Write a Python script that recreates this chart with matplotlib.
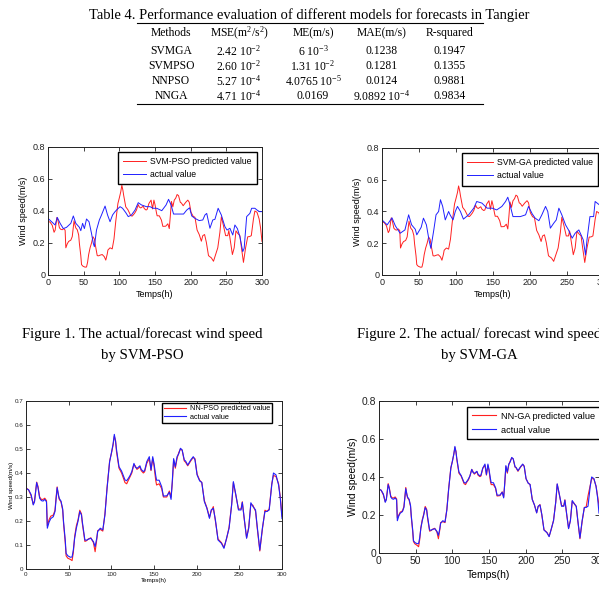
import matplotlib
matplotlib.use('Agg')
import matplotlib.pyplot as plt
from matplotlib.lines import Line2D

plt.rcParams['font.family'] = ['Liberation Sans', 'DejaVu Sans']
plt.rcParams['mathtext.fontset'] = 'custom'
plt.rcParams['mathtext.rm'] = 'Liberation Serif'
plt.rcParams['mathtext.it'] = 'Liberation Serif:italic'

W = H = 599

# ---- table data ----
tbl_title = 'Table 4. Performance evaluation of different models for forecasts in Tangier'
tbl_header = ['Methods', 'MSE(m$^2$/s$^2$)', 'ME(m/s)', 'MAE(m/s)', 'R-squared']
tbl_rows = [
    ['SVMGA', '2.42 10$^{-2}$', '6 10$^{-3}$', '0.1238', '0.1947'],
    ['SVMPSO', '2.60 10$^{-2}$', '1.31 10$^{-2}$', '0.1281', '0.1355'],
    ['NNPSO', '5.27 10$^{-4}$', '4.0765 10$^{-5}$', '0.0124', '0.9881'],
    ['NNGA', '4.71 10$^{-4}$', '0.0169', '9.0892 10$^{-4}$', '0.9834'],
]

# ---- wind speed series ----
hours = [0, 3, 6, 8.5, 10, 12.5, 14, 16, 18, 20, 22, 24, 25, 27, 29, 32, 34, 35, 36.5, 38,
         39, 41, 43, 44, 46, 47, 49, 52, 54, 55.5, 57, 59, 61, 63, 65, 66, 69, 71, 73, 76,
         79, 81, 83, 84, 87, 90, 92.5, 95, 98, 100, 102, 103.5, 105, 106, 109, 112, 114, 116, 118, 120,
         122, 124, 126.5, 128, 130, 133.5, 135, 137.5, 139, 141.5, 144.5, 146.5, 148.5, 150, 152, 153, 156, 159, 161, 165,
         168, 170, 171.5, 173, 175, 177, 179, 181, 183, 185.5, 187, 189.5, 193, 196, 198, 200.5, 203.5, 206, 209, 212,
         215, 217, 219.5, 222, 225, 229, 232, 235, 238, 241, 243, 246, 249, 252, 253.5, 256, 258.5, 261, 263.5, 266,
         269, 271, 274, 277, 280, 282.5, 285, 288, 290, 293, 296, 298, 300]
actual = [0.336, 0.33, 0.31, 0.267, 0.28, 0.36, 0.34, 0.295, 0.285, 0.283, 0.29, 0.28, 0.17, 0.195, 0.21, 0.218, 0.24, 0.28, 0.339, 0.31,
          0.294, 0.283, 0.25, 0.197, 0.12, 0.065, 0.055, 0.049, 0.05, 0.08, 0.128, 0.17, 0.2, 0.239, 0.225, 0.197, 0.121, 0.12, 0.124, 0.128,
          0.114, 0.093, 0.13, 0.156, 0.17, 0.163, 0.225, 0.336, 0.447, 0.482, 0.52, 0.561, 0.53, 0.5, 0.426, 0.408, 0.39, 0.371, 0.368, 0.378,
          0.39, 0.406, 0.44, 0.425, 0.419, 0.43, 0.415, 0.406, 0.41, 0.447, 0.468, 0.413, 0.468, 0.44, 0.39, 0.37, 0.37, 0.343, 0.304, 0.305,
          0.32, 0.29, 0.37, 0.46, 0.426, 0.468, 0.48, 0.503, 0.496, 0.454, 0.45, 0.433, 0.454, 0.468, 0.455, 0.392, 0.367, 0.361, 0.281, 0.253,
          0.211, 0.246, 0.253, 0.204, 0.121, 0.107, 0.086, 0.128, 0.17, 0.267, 0.364, 0.308, 0.246, 0.246, 0.278, 0.204, 0.128, 0.17, 0.276, 0.26,
          0.246, 0.176, 0.079, 0.17, 0.239, 0.24, 0.246, 0.35, 0.4, 0.392, 0.35, 0.294, 0.21]
nnpso_pred = [0.338, 0.33, 0.305, 0.27, 0.285, 0.362, 0.345, 0.3, 0.29, 0.29, 0.295, 0.285, 0.18, 0.205, 0.22, 0.225, 0.245, 0.29, 0.342, 0.305,
              0.29, 0.28, 0.245, 0.19, 0.11, 0.055, 0.045, 0.04, 0.035, 0.07, 0.135, 0.18, 0.205, 0.245, 0.23, 0.19, 0.115, 0.118, 0.125, 0.13,
              0.11, 0.072, 0.125, 0.16, 0.165, 0.158, 0.23, 0.34, 0.45, 0.48, 0.515, 0.553, 0.535, 0.49, 0.42, 0.4, 0.38, 0.36, 0.355, 0.37,
              0.385, 0.4, 0.436, 0.43, 0.415, 0.425, 0.41, 0.4, 0.405, 0.44, 0.46, 0.41, 0.46, 0.43, 0.37, 0.35, 0.355, 0.335, 0.3, 0.3,
              0.325, 0.3, 0.36, 0.455, 0.42, 0.46, 0.485, 0.5, 0.495, 0.45, 0.445, 0.43, 0.45, 0.465, 0.46, 0.395, 0.37, 0.36, 0.285, 0.255,
              0.215, 0.24, 0.26, 0.2, 0.125, 0.11, 0.09, 0.125, 0.175, 0.27, 0.36, 0.305, 0.25, 0.25, 0.28, 0.2, 0.13, 0.175, 0.27, 0.265,
              0.24, 0.17, 0.075, 0.165, 0.245, 0.24, 0.25, 0.355, 0.39, 0.385, 0.355, 0.3, 0.22]
nnga_pred = [0.338, 0.33, 0.305, 0.27, 0.285, 0.365, 0.345, 0.3, 0.29, 0.29, 0.295, 0.285, 0.185, 0.2, 0.215, 0.222, 0.245, 0.285, 0.345, 0.305,
             0.29, 0.28, 0.245, 0.19, 0.11, 0.06, 0.048, 0.04, 0.033, 0.07, 0.132, 0.175, 0.205, 0.245, 0.23, 0.19, 0.115, 0.118, 0.125, 0.13,
             0.11, 0.075, 0.125, 0.16, 0.165, 0.16, 0.23, 0.34, 0.45, 0.48, 0.52, 0.555, 0.535, 0.495, 0.42, 0.405, 0.385, 0.365, 0.36, 0.375,
             0.385, 0.405, 0.44, 0.43, 0.415, 0.428, 0.41, 0.402, 0.405, 0.445, 0.462, 0.41, 0.46, 0.435, 0.375, 0.36, 0.36, 0.34, 0.3, 0.302,
             0.322, 0.295, 0.365, 0.455, 0.42, 0.465, 0.485, 0.5, 0.495, 0.452, 0.448, 0.43, 0.452, 0.466, 0.458, 0.39, 0.368, 0.36, 0.283, 0.252,
             0.212, 0.244, 0.255, 0.2, 0.122, 0.108, 0.088, 0.126, 0.172, 0.268, 0.362, 0.306, 0.248, 0.25, 0.28, 0.2, 0.13, 0.172, 0.272, 0.262,
             0.244, 0.172, 0.075, 0.165, 0.24, 0.242, 0.3, 0.355, 0.392, 0.39, 0.352, 0.3, 0.25]

svmpso_hours = [0, 5, 10, 13, 17, 21.5, 26, 32, 35.5, 39, 44, 46, 48.5, 51, 54, 57.5, 61, 63.5, 65, 68,
                72, 75, 80, 83.5, 87, 90.5, 94, 97, 101, 104.5, 109, 112.5, 117, 122, 126.5, 131, 138, 143, 147.5, 152.5,
                159.5, 165.5, 169, 172.5, 176, 183, 190, 194.5, 198.5, 201.5, 206, 212, 217, 220, 222.5, 227, 231, 234, 238.5, 243,
                248, 251, 255, 259, 262, 265.5, 269, 273, 275, 278.5, 283, 285.5, 290, 293, 296.5, 300]
svmpso_blue = [0.354, 0.333, 0.3125, 0.36, 0.323, 0.29, 0.298, 0.323, 0.369, 0.323, 0.298, 0.277, 0.323, 0.29, 0.35, 0.333, 0.26, 0.198, 0.177, 0.281,
               0.344, 0.375, 0.431, 0.375, 0.333, 0.375, 0.396, 0.41, 0.427, 0.417, 0.39, 0.365, 0.375, 0.406, 0.452, 0.438, 0.427, 0.427, 0.417, 0.417,
               0.402, 0.4375, 0.473, 0.438, 0.381, 0.381, 0.381, 0.406, 0.42, 0.369, 0.354, 0.34, 0.344, 0.375, 0.385, 0.292, 0.344, 0.348, 0.417, 0.375,
               0.302, 0.281, 0.292, 0.25, 0.3125, 0.29, 0.24, 0.146, 0.167, 0.365, 0.385, 0.417, 0.417, 0.406, 0.396, 0.396]

svmga_hours = [0, 7, 13.5, 18, 24.5, 31, 36, 40, 45, 47, 53, 56, 60, 63.5, 66, 70, 73, 76.5, 79, 82,
               85.5, 90, 92, 96, 99, 102, 106, 110, 117, 124, 128, 135, 142, 149, 155, 162, 167, 170, 173, 177,
               187, 194, 198, 203, 207, 212, 216, 221, 224, 227.5, 232, 235.5, 239, 243, 248, 252, 257, 261, 266, 272,
               275, 277, 281, 286, 288, 293.7, 300]
svmga_blue = [0.347, 0.316, 0.36, 0.31, 0.263, 0.284, 0.379, 0.316, 0.288, 0.253, 0.301, 0.358, 0.316, 0.221, 0.168, 0.284, 0.379, 0.4, 0.474, 0.432,
              0.347, 0.4, 0.379, 0.347, 0.4, 0.432, 0.4, 0.352, 0.379, 0.421, 0.463, 0.453, 0.421, 0.421, 0.41, 0.432, 0.463, 0.49, 0.442, 0.368,
              0.368, 0.379, 0.432, 0.385, 0.358, 0.342, 0.379, 0.432, 0.4, 0.295, 0.326, 0.347, 0.421, 0.379, 0.316, 0.284, 0.232, 0.263, 0.284, 0.221,
              0.126, 0.221, 0.368, 0.368, 0.463, 0.442, 0.43]

captions = [('Figure 1. The actual/forecast wind speed', 'by SVM-PSO'),
            ('Figure 2. The actual/ forecast wind speed', 'by SVM-GA')]


def fx(x):
    return x / W


def fy(y):
    return 1 - y / H


def axes_px(fig, left, top, right, bottom):
    return fig.add_axes([fx(left), fy(bottom), (right - left) / W, (bottom - top) / H])


def style_axes(ax, ymax, ystep, fs):
    ax.set_xlim(0, 300)
    ax.set_ylim(0, ymax)
    ax.set_xticks(range(0, 301, 50))
    yt = [round(i * ystep, 2) for i in range(int(round(ymax / ystep)) + 1)]
    ax.set_yticks(yt)
    ax.set_yticklabels(['%g' % v for v in yt])
    ax.tick_params(direction='in', top=True, right=True, length=3, width=0.6,
                   labelsize=fs, pad=2, colors='#222222')
    for s in ax.spines.values():
        s.set_linewidth(0.7)
        s.set_color('#222222')


def legend(ax, anchor, fs, hl, pad, spacing):
    ax.legend(loc='upper left', bbox_to_anchor=anchor, borderaxespad=0, fancybox=False,
              edgecolor='k', framealpha=1, fontsize=fs, handlelength=hl, borderpad=pad,
              labelspacing=spacing, handletextpad=0.5)


fig = plt.figure(figsize=(W / 100, H / 100), dpi=100)

# ---- table ----
fig.text(fx(309), fy(15), tbl_title, family='Liberation Serif', fontsize=10.45,
         ha='center', va='center')
fig.add_artist(Line2D([fx(137), fx(483)], [fy(23), fy(23)], color='k', lw=0.8))
fig.add_artist(Line2D([fx(137), fx(483)], [fy(104), fy(104)], color='k', lw=0.8))
col_x = [171, 239, 313, 382, 450]
row_y = [33, 51, 66, 81, 96]
for cx, t in zip(col_x, tbl_header):
    fig.text(fx(cx), fy(row_y[0]), t, family='Liberation Serif', fontsize=8.4,
             ha='center', va='center')
for ry, row in zip(row_y[1:], tbl_rows):
    for cx, t in zip(col_x, row):
        fig.text(fx(cx), fy(ry), t, family='Liberation Serif', fontsize=8.4,
                 ha='center', va='center')

# ---- Figure 1: SVM-PSO ----
ax1 = axes_px(fig, 48, 147, 262, 275)
ax1.plot(hours, actual, color='#ff2020', lw=0.7, label='SVM-PSO predicted value')
ax1.plot(svmpso_hours, svmpso_blue, color='#2020ff', lw=0.7, label='actual value')
style_axes(ax1, 0.8, 0.2, 6.5)
ax1.set_xlabel('Temps(h)', fontsize=6.5, labelpad=2)
ax1.set_ylabel('Wind speed(m/s)', fontsize=6.5, labelpad=3)
legend(ax1, (0.327, 0.961), 6.2, 2.6, 0.6, 0.45)

# ---- Figure 2: SVM-GA ----
ax2 = axes_px(fig, 382, 148, 604, 275)
ax2.plot(hours, actual, color='#ff2020', lw=0.7, label='SVM-GA predicted value')
ax2.plot(svmga_hours, svmga_blue, color='#2020ff', lw=0.7, label='actual value')
style_axes(ax2, 0.8, 0.2, 6.5)
ax2.set_xlabel('Temps(h)', fontsize=6.5, labelpad=2)
ax2.set_ylabel('Wind speed(m/s)', fontsize=6.5, labelpad=3)
legend(ax2, (0.36, 0.96), 6.3, 2.9, 0.6, 0.45)

# ---- Figure 3: NN-PSO ----
ax3 = axes_px(fig, 26, 401, 282, 569)
ax3.plot(hours, nnpso_pred, color='#ff2020', lw=0.8, label='NN-PSO predicted value')
ax3.plot(hours, actual, color='#2020ff', lw=0.8, label='actual value')
style_axes(ax3, 0.7, 0.1, 4.5)
ax3.set_xlabel('Temps(h)', fontsize=4.5, labelpad=1)
ax3.set_ylabel('Wind speed(m/s)', fontsize=4.5, labelpad=0)
legend(ax3, (0.531, 0.988), 5.3, 3.0, 0.3, 0.15)

# ---- Figure 4: NN-GA ----
ax4 = axes_px(fig, 379, 401, 599, 553)
ax4.plot(hours, nnga_pred, color='#ff2020', lw=0.8, label='NN-GA predicted value')
ax4.plot(hours, actual, color='#2020ff', lw=0.8, label='actual value')
style_axes(ax4, 0.8, 0.2, 7.5)
ax4.set_xlabel('Temps(h)', fontsize=7.5, labelpad=3)
ax4.set_ylabel('Wind speed(m/s)', fontsize=7.5, labelpad=3)
legend(ax4, (0.4, 0.96), 6.6, 2.7, 0.5, 0.55)

# ---- captions ----
for cx, (l1, l2) in zip([142, 479], captions):
    fig.text(fx(cx), fy(334), l1, family='Liberation Serif', fontsize=10.6, ha='center', va='center')
    fig.text(fx(cx), fy(355), l2, family='Liberation Serif', fontsize=10.6, ha='center', va='center')

fig.savefig('out.png', dpi=100)
